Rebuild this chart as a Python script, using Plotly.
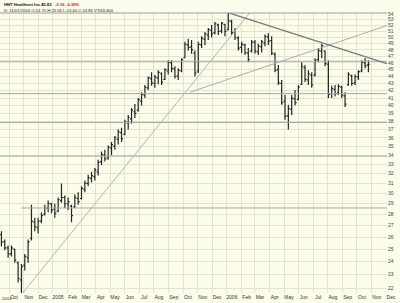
import plotly.graph_objects as go
import pandas as pd

# ---------------- data (weekly bars) ----------------
week_dates = pd.date_range("2004-09-15", periods=111, freq="7D")

open_ = [26.2, 25.6, 25.1, 24.6, 25.0, 23.9, 22.6, 23.7, 24.3, 25.9,
         27.3, 26.8, 27.4, 28.0, 28.6, 29.0, 28.5, 28.3, 29.3, 29.6,
         29.0, 28.8, 28.7, 29.5, 29.5, 30.4, 31.0, 31.5, 31.7, 32.2,
         33.3, 34.0, 33.7, 34.8, 35.0, 35.8, 36.6, 36.4, 37.8, 38.3,
         39.2, 39.4, 40.6, 41.4, 42.4, 43.7, 43.0, 43.8, 44.4, 43.6,
         44.8, 46.0, 45.1, 44.1, 44.8, 46.8, 48.8, 48.5, 47.5, 44.8,
         48.8, 49.7, 50.4, 51.2, 50.8, 52.1, 51.1, 52.2, 51.3, 52.7,
         50.9, 49.9, 48.4, 48.8, 47.5, 47.8, 49.2, 47.7, 48.5, 49.1,
         50.1, 49.5, 47.3, 45.0, 43.0, 40.6, 38.7, 39.5, 40.9, 40.8,
         42.9, 45.3, 43.5, 44.2, 44.2, 46.5, 47.8, 47.8, 45.8, 41.6,
         42.2, 41.7, 42.5, 41.3, 42.8, 44.1, 43.1, 43.9, 44.8, 46.0, 45.7]
high = [26.5, 25.8, 25.3, 25.3, 25.0, 24.0, 23.8, 24.6, 25.8, 28.9,
        27.7, 27.7, 28.2, 28.9, 29.3, 29.1, 29.0, 29.6, 31.0, 29.8,
        29.6, 28.9, 29.9, 30.1, 30.7, 31.3, 31.9, 32.2, 32.6, 33.5,
        34.4, 34.6, 35.1, 35.5, 36.2, 37.0, 37.2, 38.2, 38.8, 39.7,
        40.2, 41.0, 41.8, 42.8, 44.0, 44.6, 44.2, 44.9, 44.6, 45.2,
        46.4, 46.4, 45.5, 45.2, 46.7, 49.3, 49.8, 49.6, 47.9, 49.3,
        50.2, 50.9, 51.6, 52.1, 52.6, 52.3, 52.6, 52.3, 54.2, 53.0,
        51.6, 50.2, 49.3, 49.0, 48.3, 49.6, 49.6, 49.0, 49.6, 50.5,
        50.7, 50.2, 47.6, 45.7, 43.5, 41.4, 40.1, 41.4, 42.1, 42.8,
        46.1, 45.7, 44.9, 44.6, 46.7, 48.3, 49.0, 47.9, 46.4, 42.7,
        42.8, 42.9, 42.7, 41.8, 44.6, 44.3, 44.3, 44.9, 46.4, 46.7, 46.4]
low = [25.2, 24.9, 24.3, 24.4, 23.9, 22.4, 21.65, 23.3, 23.9, 25.7,
       26.5, 26.3, 27.2, 27.9, 28.2, 28.1, 27.7, 28.2, 29.1, 28.6,
       28.4, 27.3, 28.6, 28.9, 29.4, 30.1, 30.7, 31.1, 31.3, 31.8,
       32.9, 33.3, 33.5, 34.0, 34.6, 35.2, 35.5, 36.3, 37.0, 37.7,
       38.4, 39.2, 40.0, 41.0, 42.1, 42.7, 42.4, 42.9, 42.8, 43.5,
       44.3, 44.6, 43.7, 43.5, 44.6, 46.8, 47.9, 47.4, 44.0, 44.5,
       48.3, 48.8, 49.6, 50.0, 50.5, 50.4, 50.7, 50.2, 51.2, 50.4,
       49.6, 47.9, 47.5, 47.2, 46.1, 47.6, 47.4, 47.2, 47.6, 48.6,
       48.8, 47.2, 44.6, 42.8, 40.1, 38.2, 37.0, 38.8, 40.0, 40.7,
       42.8, 43.2, 42.8, 42.4, 44.0, 46.1, 46.7, 45.5, 41.0, 41.0,
       41.2, 41.4, 41.0, 39.8, 42.7, 42.7, 42.8, 43.5, 44.6, 45.2, 44.6]
close = [25.6, 25.1, 24.6, 25.1, 24.1, 22.7, 23.6, 24.4, 25.6, 27.4,
         26.9, 27.4, 27.9, 28.6, 29.0, 28.4, 28.1, 29.4, 29.6, 29.0,
         29.2, 27.9, 29.6, 29.2, 30.5, 31.0, 31.6, 31.8, 32.4, 33.2,
         34.1, 33.6, 34.9, 35.2, 36.0, 36.7, 35.9, 37.9, 38.5, 39.4,
         39.0, 40.8, 41.5, 42.5, 43.8, 43.1, 43.9, 44.6, 43.2, 45.0,
         46.1, 45.2, 44.0, 44.9, 46.5, 48.9, 48.4, 48.0, 44.5, 48.9,
         49.9, 50.6, 51.3, 50.6, 52.3, 51.0, 52.4, 51.0, 52.8, 50.8,
         50.0, 48.3, 48.9, 47.6, 46.5, 49.3, 47.8, 48.6, 49.3, 50.2,
         49.4, 47.5, 44.9, 43.1, 40.4, 38.6, 39.6, 41.0, 40.4, 42.5,
         45.5, 43.6, 44.4, 42.8, 46.4, 47.9, 48.7, 45.9, 41.5, 42.3,
         41.6, 42.6, 41.4, 40.2, 44.3, 43.0, 44.0, 44.7, 46.1, 45.6, 45.8]

# drawn trend lines (date, price end points)
steep_dates = ["2004-10-26", "2006-02-18"]
steep_prices = [21.5, 54.2]
shallow_dates = ["2005-10-16", "2006-12-03"]
shallow_prices = [41.8, 52.0]
falling_dates = ["2006-01-05", "2006-12-03"]
falling_prices = [54.2, 45.9]

# drawn horizontal levels
level_prices = [46.25, 41.6, 37.85, 33.9, 28.6]
level_starts = ["2004-09-12", "2004-09-12", "2004-09-12", "2004-09-12", "2004-10-26"]
level_end = "2006-12-03"

# axis ticks
month_ticks = [d.strftime("%Y-%m-%d") for d in
               pd.date_range("2004-10-01", "2006-12-01", freq="MS")]
month_labels = ["Oct", "Nov", "Dec",
                "2005", "Feb", "Mar", "Apr", "May", "Jun", "Jul", "Aug", "Sep", "Oct", "Nov", "Dec",
                "2006", "Feb", "Mar", "Apr", "May", "Jun", "Jul", "Aug", "Sep", "Oct", "Nov", "Dec"]
first_year_label = "2004"
price_ticks = list(range(22, 55))
price_labels = [str(v) for v in price_ticks]

# ---------------- figure ----------------
BG = "#FCFCEA"
GRID = "#E4E4CC"
FONT = "Liberation Sans"

fig = go.Figure()

for p, s in zip(level_prices, level_starts):
    fig.add_trace(go.Scatter(x=[s, level_end], y=[p, p], mode="lines",
                             line=dict(color="#A6A6A6", width=1),
                             hoverinfo="skip", showlegend=False))

fig.add_trace(go.Scatter(x=steep_dates, y=steep_prices, mode="lines",
                         line=dict(color="#B4B4B4", width=1), hoverinfo="skip", showlegend=False))
fig.add_trace(go.Scatter(x=shallow_dates, y=shallow_prices, mode="lines",
                         line=dict(color="#ABABAB", width=1), hoverinfo="skip", showlegend=False))
fig.add_trace(go.Scatter(x=falling_dates, y=falling_prices, mode="lines",
                         line=dict(color="#777777", width=1.3), hoverinfo="skip", showlegend=False))

fig.add_trace(go.Ohlc(x=week_dates, open=open_, high=high, low=low, close=close,
                      increasing=dict(line=dict(color="#262626", width=1.2)),
                      decreasing=dict(line=dict(color="#262626", width=1.2)),
                      tickwidth=0.45, hoverinfo="skip", showlegend=False))

fig.update_layout(
    width=400, height=303,
    margin=dict(l=0, r=13, t=13, b=10, pad=0),
    paper_bgcolor=BG, plot_bgcolor=BG,
    font=dict(family=FONT, size=5, color="#333333"),
    showlegend=False,
    xaxis=dict(
        type="date", range=["2004-09-12", "2006-12-03"],
        tickmode="array", tickvals=month_ticks, ticktext=month_labels,
        showgrid=True, gridcolor=GRID, gridwidth=1,
        ticks="", ticklabelshift=5, ticklabeloverflow="allow", tickangle=0,
        zeroline=False, showline=False,
        tickfont=dict(family=FONT, size=5, color="#333333"),
        rangeslider=dict(visible=False), fixedrange=True,
    ),
    yaxis=dict(
        type="log", range=[1.335377, 1.733817], side="right",
        tickmode="array", tickvals=price_ticks, ticktext=price_labels,
        showgrid=True, gridcolor=GRID, gridwidth=1,
        ticks="", zeroline=False, showline=False,
        tickfont=dict(family=FONT, size=5, color="#444444"),
        fixedrange=True,
    ),
    shapes=[dict(type="line", xref="paper", yref="paper", x0=0, x1=1, y0=1, y1=1,
                 line=dict(color="#9C9C9C", width=1))],
    annotations=[
        dict(xref="paper", yref="paper", x=0.0, y=-0.021, xanchor="left", yanchor="middle",
             showarrow=False, text=first_year_label,
             font=dict(family=FONT, size=4.2, color="#333333")),
        dict(xref="paper", yref="paper", x=0.004, y=1.032, xanchor="left", yanchor="middle",
             showarrow=False, text="<b>HNT Healthnet Inc</b>",
             font=dict(family=FONT, size=4.2, color="#111111")),
        dict(xref="paper", yref="paper", x=0.101, y=1.032, xanchor="left", yanchor="middle",
             showarrow=False, text="<b>45.83</b>",
             font=dict(family=FONT, size=4.2, color="#111111")),
        dict(xref="paper", yref="paper", x=0.137, y=1.032, xanchor="left", yanchor="middle",
             showarrow=False, text="<b>-0.16</b>",
             font=dict(family=FONT, size=4.2, color="#D01010")),
        dict(xref="paper", yref="paper", x=0.166, y=1.032, xanchor="left", yanchor="middle",
             showarrow=False, text="<b>-0.35%</b>",
             font=dict(family=FONT, size=4.2, color="#D01010")),
        dict(xref="paper", yref="paper", x=0.004, y=1.0107, xanchor="left", yanchor="middle",
             showarrow=False, text="D: 11/01/2004 O:24.70 H:25.05 L:24.40 C:24.85 V:553,400",
             font=dict(family=FONT, size=4.2, color="#222222")),
    ],
)

fig.write_html("out.html")
